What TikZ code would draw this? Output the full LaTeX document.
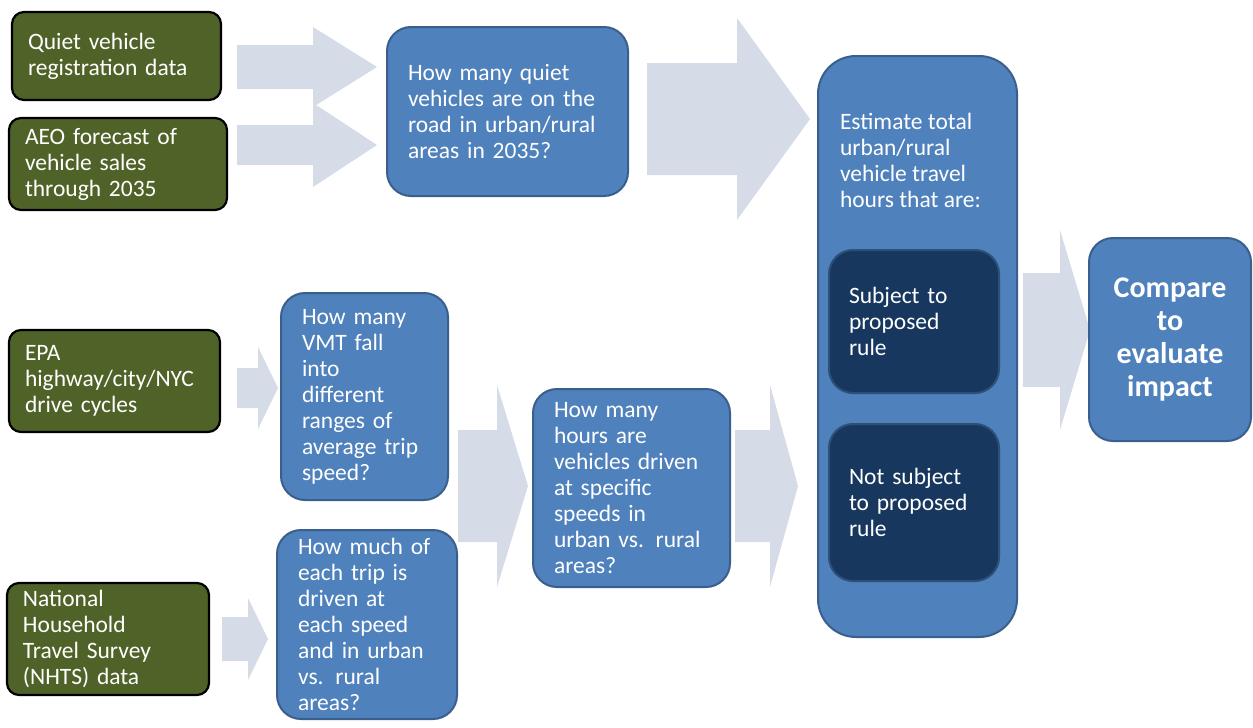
\documentclass[tikz,border=0pt]{standalone}
\usepackage{fontspec}
\setmainfont{Carlito}

\definecolor{datagreen}{HTML}{4F6228}
\definecolor{stepblue}{HTML}{4F81BD}
\definecolor{stepedge}{HTML}{3A5F8C}
\definecolor{subnavy}{HTML}{17375E}
\definecolor{subedge}{HTML}{2D5078}
\definecolor{flowgray}{HTML}{D5DCE7}

% wide flat arrow: tail x, head x, tip x, middle y, half shaft, half head
\newcommand{\blockarrow}[6]{%
  \fill[flowgray] (#1,#4-#5) -- (#2,#4-#5) -- (#2,#4-#6) -- (#3,#4)
    -- (#2,#4+#6) -- (#2,#4+#5) -- (#1,#4+#5) -- cycle;}

\begin{document}
\begin{tikzpicture}[x=1pt,y=-1pt,inner sep=0pt,outer sep=0pt,
font=\fontsize{23.5}{26}\selectfont,
databox/.style={draw=black,line width=2.2pt,fill=datagreen,rounded corners=12pt,text=white,align=left,inner xsep=16pt},
stepbox/.style={draw=stepedge,line width=2pt,fill=stepblue,rounded corners=24pt,text=white,align=left,inner xsep=21pt},
subbox/.style={draw=subedge,line width=2pt,fill=subnavy,rounded corners=24pt,text=white,align=left,inner xsep=20pt}]
\useasboundingbox (0,0) rectangle (1253,728);

% flow arrows behind the boxes
\blockarrow{237}{313}{377}{67}{22}{40}
\blockarrow{237}{313}{377}{145}{20}{42}
\blockarrow{647}{737}{810}{119}{56}{101}
\blockarrow{237}{258}{278}{388}{20}{41}
\blockarrow{222}{248}{268}{639}{22}{41}
\blockarrow{458}{497}{528}{486}{56}{101}
\blockarrow{735}{770}{798}{486}{56}{101}
\blockarrow{1023}{1060}{1090}{330}{57}{100}

% input data
\draw (116.5,56) node[databox,minimum width=209pt,minimum height=88pt,text width=177pt] (regdata) {Quiet vehicle\\registration data};
\draw (118,164) node[databox,minimum width=218pt,minimum height=92pt,text width=186pt] (aeo) {AEO forecast of\\vehicle sales\\through 2035};
\draw (114.5,381) node[databox,minimum width=211pt,minimum height=102pt,text width=179pt] (epa) {EPA\\highway/city/NYC\\drive cycles};
\draw (108,639) node[databox,minimum width=202pt,minimum height=112pt,text width=170pt] (nhts) {National\\Household\\Travel Survey\\(NHTS) data};

% questions
\draw (507.5,111.5) node[stepbox,minimum width=241pt,minimum height=169pt,text width=199pt] (fleet) {How many quiet\\vehicles are on the\\road in urban/rural\\areas in 2035?};
\draw (364.5,396.5) node[stepbox,minimum width=167pt,minimum height=207pt,text width=125pt] (vmt) {How many\\VMT fall\\into\\different\\ranges of\\average trip\\speed?};
\draw (367,624.5) node[stepbox,minimum width=180pt,minimum height=189pt,text width=138pt] (share) {How much of\\each trip is\\driven at\\each speed\\and in urban\\vs. rural\\areas?};
\draw (631.5,488) node[stepbox,minimum width=197pt,minimum height=198pt,text width=155pt] (hours) {How many\\hours are\\vehicles driven\\at specific\\speeds in\\urban vs. rural\\areas?};

% estimate with its two parts
\draw (917.5,346.5) node[stepbox,rounded corners=38pt,minimum width=199pt,minimum height=581pt] (estimate) {};
\draw (estimate.north west) ++(22,57) node[anchor=north west,text=white,align=left] (estlabel) {Estimate total\\urban/rural\\vehicle travel\\hours that are:};
\draw (914,321.5) node[subbox,minimum width=170pt,minimum height=143pt,text width=130pt] (subject) {Subject to\\proposed\\rule};
\draw (914,502.5) node[subbox,minimum width=170pt,minimum height=157pt,text width=130pt] (notsubject) {Not subject\\to proposed\\rule};

% result
\draw (1170,339.5) node[stepbox,align=center,font=\bfseries\fontsize{30}{33}\selectfont,minimum width=162pt,minimum height=203pt,text width=142pt,inner xsep=10pt] (compare) {Compare\\to\\evaluate\\impact};
\end{tikzpicture}
\end{document}
